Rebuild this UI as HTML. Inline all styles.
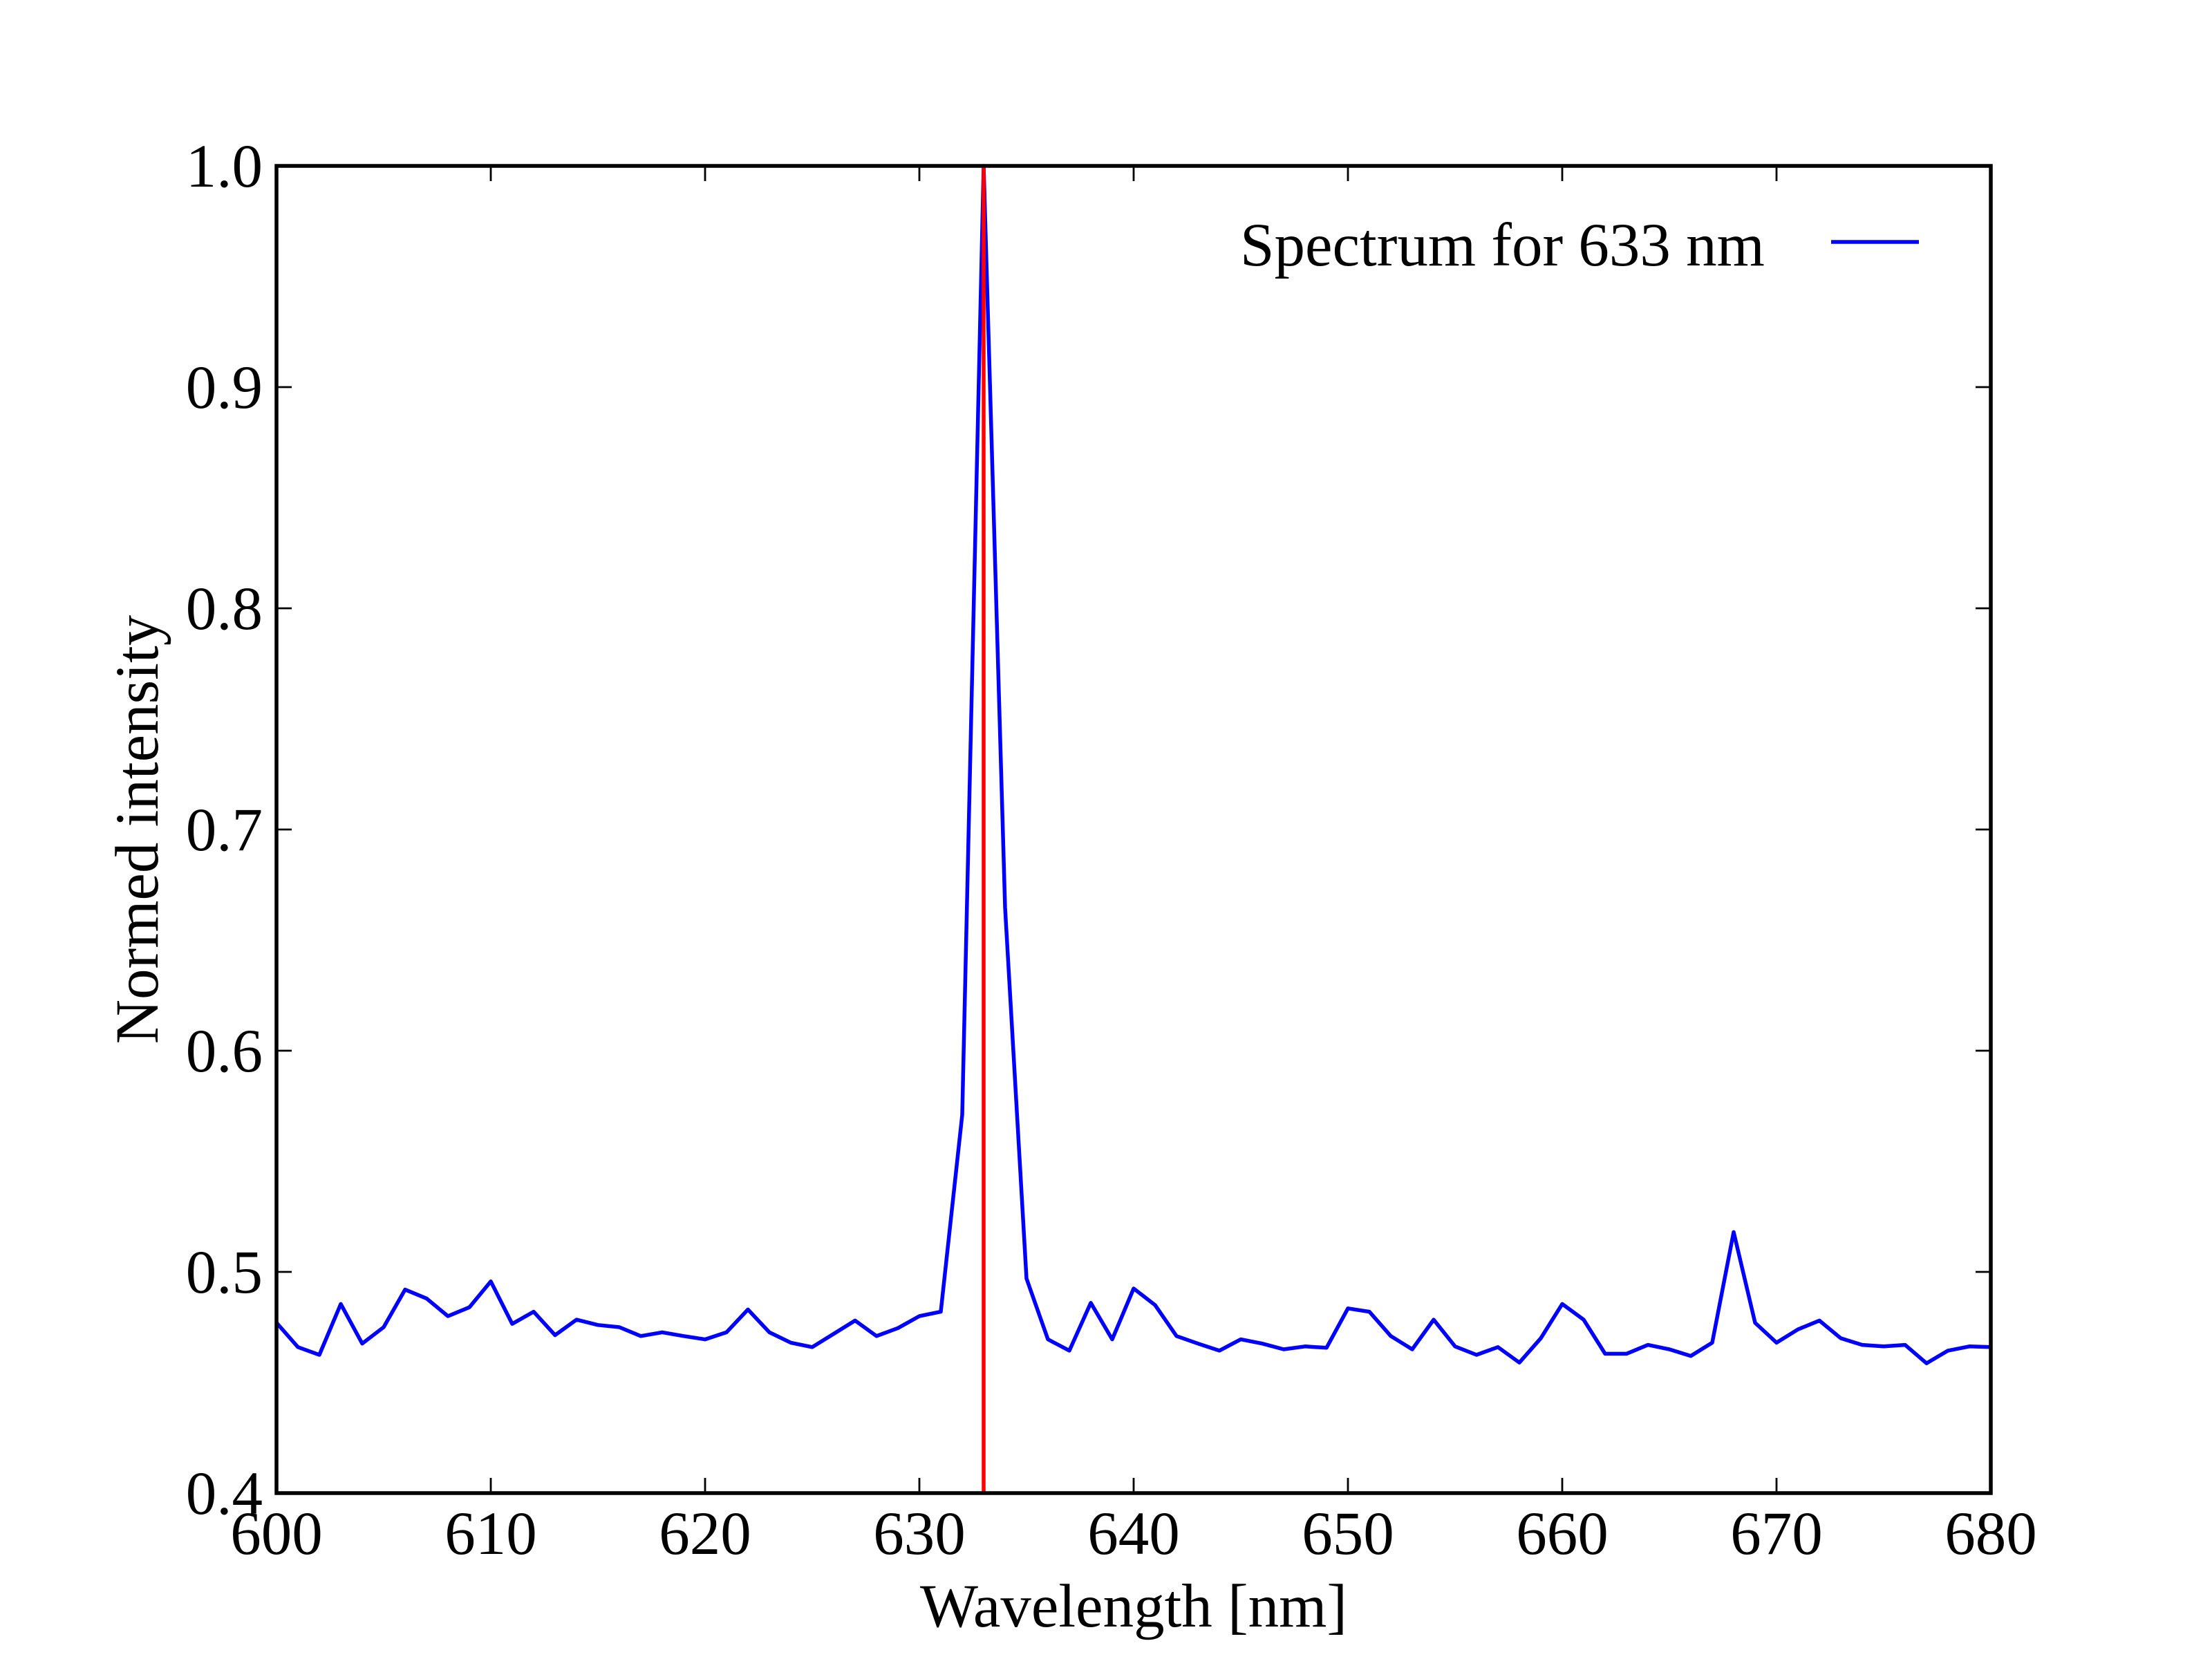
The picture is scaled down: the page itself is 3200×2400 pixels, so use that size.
<!DOCTYPE html>
<html><head><meta charset="utf-8"><style>
html,body{margin:0;padding:0;background:#fff}
svg{display:block}
text{font-family:"Liberation Serif","DejaVu Serif",serif;fill:#000}
</style></head><body>
<svg id="chart" width="3200" height="2400" viewBox="0 0 3200 2400" xmlns="http://www.w3.org/2000/svg">
<rect width="3200" height="2400" fill="#fff"/>
<g id="plot"></g>
</svg>
<script>
const wavelengths = [600,601,602,603,604,605,606,607,608,609,610,611,612,613,614,615,616,617,618,619,620,621,622,623,624,625,626,627,628,629,630,631,632,633,634,635,636,637,638,639,640,641,642,643,644,645,646,647,648,649,650,651,652,653,654,655,656,657,658,659,660,661,662,663,664,665,666,667,668,669,670,671,672,673,674,675,676,677,678,679,680];
const intensity = [0.477,0.466,0.4625,0.4855,0.4676,0.475,0.492,0.488,0.480,0.484,0.4957,0.4765,0.482,0.4714,0.4784,0.476,0.475,0.471,0.4727,0.471,0.4695,0.4727,0.483,0.4727,0.468,0.466,0.472,0.478,0.471,0.4746,0.480,0.482,0.571,1.0,0.6647,0.497,0.4695,0.4644,0.486,0.4695,0.4925,0.485,0.471,0.4676,0.4644,0.4695,0.4676,0.465,0.4663,0.4657,0.4835,0.482,0.471,0.465,0.4784,0.4663,0.4625,0.466,0.459,0.470,0.4855,0.4784,0.463,0.463,0.467,0.465,0.462,0.468,0.518,0.477,0.468,0.474,0.478,0.470,0.467,0.4663,0.467,0.4587,0.4644,0.4663,0.466];
const markerLine = [633];
const xTicks = [600,610,620,630,640,650,660,670,680];
const yTicks = [0.4,0.5,0.6,0.7,0.8,0.9,1.0];
const yTickLabels = ["0.4","0.5","0.6","0.7","0.8","0.9","1.0"];

const L=400,R=2880,T=240,B=2160;
const xMin=600,xMax=680,yMin=0.4,yMax=1.0;
const FS=89;
const sx=v=>L+(v-xMin)/(xMax-xMin)*(R-L);
const sy=v=>B-(v-yMin)/(yMax-yMin)*(B-T);
const NS="http://www.w3.org/2000/svg";
const g=document.getElementById('plot');
function mk(tag,attrs,parent){const e=document.createElementNS(NS,tag);for(const k in attrs)e.setAttribute(k,attrs[k]);(parent||g).appendChild(e);return e;}

let d='';
wavelengths.forEach((w,i)=>{d+=(i?'L':'M')+sx(w).toFixed(1)+' '+sy(intensity[i]).toFixed(1);});
const line=mk('path',{d:d,fill:'none',stroke:'#0000ff','stroke-width':5.5,'stroke-linejoin':'round'});



markerLine.forEach(m=>{
  const v=mk('line',{x1:sx(m),x2:sx(m),y1:T,y2:B,stroke:'#ff0000','stroke-width':5.5});
  
  
});

xTicks.forEach(t=>{
  const a=mk('line',{x1:sx(t),x2:sx(t),y1:B,y2:B-22,stroke:'#000','stroke-width':2.8});
  
  
  const b=mk('line',{x1:sx(t),x2:sx(t),y1:T,y2:T+22,stroke:'#000','stroke-width':2.8});
  
  
  const tx=mk('text',{x:sx(t),y:2248,'font-size':FS,'text-anchor':'middle'});
  tx.textContent=t;
  
  
});
yTicks.forEach((t,i)=>{
  const a=mk('line',{x1:L,x2:L+22,y1:sy(t),y2:sy(t),stroke:'#000','stroke-width':2.8});
  
  
  const b=mk('line',{x1:R,x2:R-22,y1:sy(t),y2:sy(t),stroke:'#000','stroke-width':2.8});
  
  
  const tx=mk('text',{x:380,y:sy(t)+30,'font-size':FS,'text-anchor':'end'});
  tx.textContent=yTickLabels[i];
  
  
});

const frame=mk('rect',{x:L,y:T,width:R-L,height:B-T,fill:'none',stroke:'#000','stroke-width':5.5});



const xl=mk('text',{x:1640,y:2353,'font-size':FS,'text-anchor':'middle'});
xl.textContent='Wavelength [nm]';


const yl=mk('text',{x:0,y:0,'font-size':FS,'text-anchor':'middle',transform:'translate(228,1200) rotate(-90)'});
yl.textContent='Normed intensity';



const lg=mk('g',{});


const lt=mk('text',{x:1794,y:384,'font-size':FS},lg);
lt.textContent='Spectrum for 633 nm';


const ll=mk('line',{x1:2649,x2:2776,y1:350,y2:350,stroke:'#0000ff','stroke-width':5.5},lg);


</script>
</body></html>
